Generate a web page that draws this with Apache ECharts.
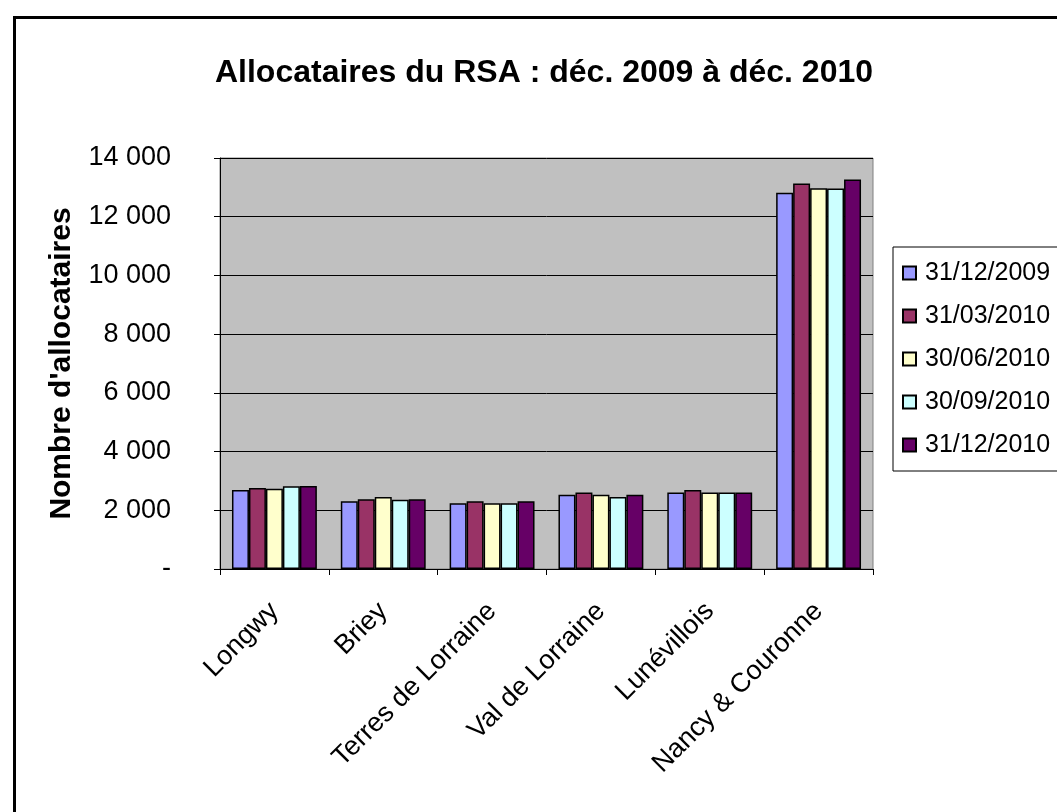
<!DOCTYPE html>
<html><head><meta charset="utf-8">
<script src="https://cdn.jsdelivr.net/npm/echarts@6/dist/echarts.min.js"></script>
<style>html,body{margin:0;padding:0;background:#fff}#c{width:1057px;height:812px}</style>
</head><body><div id="c"></div>
<script>
const categories = ['Longwy','Briey','Terres de Lorraine','Val de Lorraine','Lunévillois','Nancy & Couronne'];
const seriesNames = ['31/12/2009','31/03/2010','30/06/2010','30/09/2010','31/12/2010'];
const s2009_12 = [2690, 2310, 2240, 2530, 2610, 12820];
const s2010_03 = [2760, 2375, 2305, 2610, 2690, 13130];
const s2010_06 = [2735, 2450, 2240, 2530, 2610, 12970];
const s2010_09 = [2815, 2360, 2240, 2455, 2610, 12960];
const s2010_12 = [2825, 2375, 2305, 2530, 2610, 13265];
const colors = ['#9999FF','#993366','#FFFFCC','#CCFFFF','#660066'];
const allData = [s2009_12, s2010_03, s2010_06, s2010_09, s2010_12];

const chart = echarts.init(document.getElementById('c'));
const font = 'Liberation Sans, Arial, sans-serif';
chart.setOption({
  animation: false,
  textStyle: {fontFamily: font},
  title: {
    text: 'Allocataires du RSA : déc. 2009 à déc. 2010',
    left: 539, top: 52, textAlign: 'center',
    textStyle: {fontSize: 32, fontWeight: 'bold', color: '#000', fontFamily: font}
  },
  graphic: [{
    type: 'rect', left: 12, top: 15, shape: {width: 1100, height: 900},
    style: {fill: 'none', stroke: '#000', lineWidth: 3}, z: -1
  }],
  legend: {
    orient: 'vertical', left: 893, top: 247,
    data: seriesNames,
    itemWidth: 13, itemHeight: 13, itemGap: 15,
    padding: [12, 10, 12, 9],
    borderColor: '#000', borderWidth: 1,
    textStyle: {fontSize: 25, color: '#000', fontFamily: font, lineHeight: 28, padding: [0, 0, 0, 4]},
    icon: 'rect'
  },
  grid: {
    left: 220, right: 184, top: 158, bottom: 243,
    show: true, backgroundColor: '#C0C0C0', borderColor: '#808080', borderWidth: 1
  },
  xAxis: {
    type: 'category', data: categories,
    axisLine: {lineStyle: {color: '#000', width: 1}},
    axisTick: {show: true, length: 6, lineStyle: {color: '#000'}},
    axisLabel: {rotate: 45, fontSize: 27, color: '#000', margin: 38, interval: 0, fontFamily: font}
  },
  yAxis: {
    type: 'value', min: 0, max: 14000, interval: 2000,
    name: "Nombre d'allocataires", nameLocation: 'middle', nameGap: 143,
    nameTextStyle: {fontSize: 30, fontWeight: 'bold', color: '#000', fontFamily: font},
    axisLine: {show: true, lineStyle: {color: '#000'}},
    axisTick: {show: true, length: 6, lineStyle: {color: '#000'}},
    splitLine: {lineStyle: {color: '#000', width: 1}},
    axisLabel: {
      fontSize: 27, color: '#000', margin: 49, fontFamily: font,
      formatter: v => v === 0 ? '-' : String(v).replace(/\B(?=(\d{3})+(?!\d))/g, ' ')
    }
  },
  series: seriesNames.map((n, i) => ({
    name: n, type: 'bar', data: allData[i],
    barGap: '0%', barCategoryGap: '22%',
    itemStyle: {color: colors[i], borderColor: '#000', borderWidth: 1.5}
  }))
});
</script></body></html>
